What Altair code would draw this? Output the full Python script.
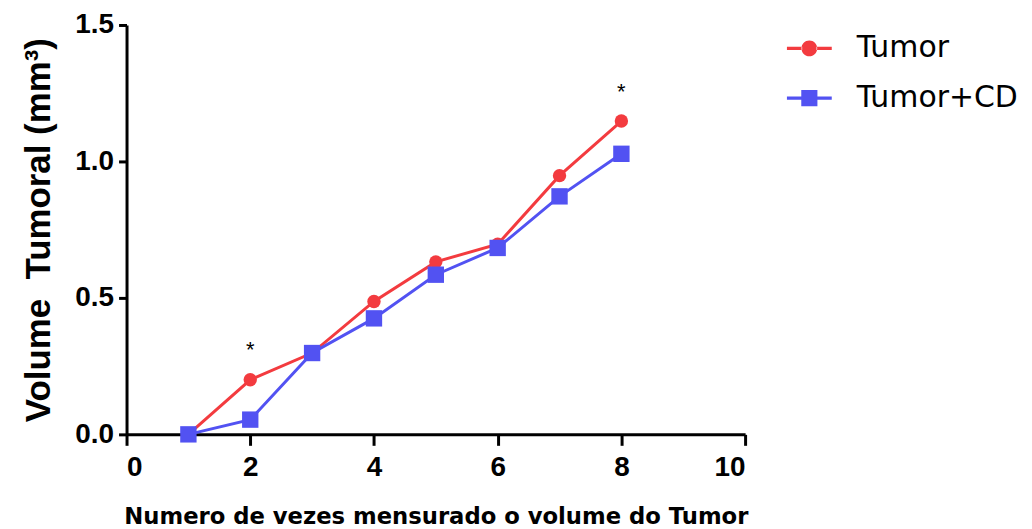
import altair as alt
import pandas as pd

x_vals = [1, 2, 3, 4, 5, 6, 7, 8]
tumor = [0.0, 0.20, 0.298, 0.487, 0.632, 0.697, 0.948, 1.148]
tumor_cd = [0.0, 0.054, 0.298, 0.425, 0.585, 0.683, 0.872, 1.028]
series_names = ["Tumor", "Tumor+CD"]
colors = ["#F33B3F", "#5252F2"]
sig_x = [2, 8]
sig_y = [0.31, 1.255]

rows = []
for xv, a, b in zip(x_vals, tumor, tumor_cd):
    rows.append({"x": xv, "y": a, "s": series_names[0]})
    rows.append({"x": xv, "y": b, "s": series_names[1]})
df = pd.DataFrame(rows)
sig = pd.DataFrame({"x": sig_x, "y": sig_y, "t": ["*"] * len(sig_x)})

# legend symbols: line + marker
leg_circle = ("M-1,-0.07H-0.32V0.07H-1Z M0.32,-0.07H1V0.07H0.32Z "
              "M-0.35,0A0.35,0.35,0,1,0,0.35,0A0.35,0.35,0,1,0,-0.35,0Z")
leg_square = ("M-1,-0.07H-0.36V0.07H-1Z M0.36,-0.07H1V0.07H0.36Z "
              "M-0.36,-0.36H0.36V0.36H-0.36Z")

xs = alt.X("x:Q", scale=alt.Scale(domain=[0, 10], nice=False),
           axis=alt.Axis(values=[0, 2, 4, 6, 8, 10], title="Numero de vezes mensurado o volume do Tumor",
                         titlePadding=24, titleFont="DejaVu Sans", titleFontSize=22.8))
ys = alt.Y("y:Q", scale=alt.Scale(domain=[0, 1.5], nice=False),
           axis=alt.Axis(values=[0, 0.5, 1.0, 1.5], format=".1f",
                         title="Volume\u00a0\u00a0Tumoral (mm³)",
                         titlePadding=18, titleFontSize=35, tickSize=8))
cscale = alt.Scale(domain=series_names, range=colors)

# drawn first, tiny, hidden under the real markers: it only feeds the legend
legend_layer = alt.Chart(df).mark_point(filled=True, size=1, opacity=1).encode(
    x=xs, y=ys,
    color=alt.Color("s:N", scale=cscale, sort=series_names,
                    legend=alt.Legend(title=None, orient="none", legendX=663, legendY=1,
                                      symbolSize=2025, labelFontSize=30,
                                      labelFont="DejaVu Sans", labelColor="black", labelLimit=400,
                                      labelOffset=25, rowPadding=12, symbolStrokeWidth=0)),
    shape=alt.Shape("s:N", sort=series_names,
                    scale=alt.Scale(domain=series_names, range=[leg_circle, leg_square])),
)

lines = alt.Chart(df).mark_line(strokeWidth=3).encode(
    x=xs, y=ys,
    color=alt.Color("s:N", scale=cscale, legend=None),
    detail="s:N",
)

circ = alt.Chart(df[df.s == series_names[0]]).mark_point(filled=True, shape="circle", size=180, opacity=1).encode(
    x=xs, y=ys, color=alt.Color("s:N", scale=cscale, legend=None))
sq = alt.Chart(df[df.s == series_names[1]]).mark_point(filled=True, shape="square", size=270, opacity=1).encode(
    x=xs, y=ys, color=alt.Color("s:N", scale=cscale, legend=None))

stars = alt.Chart(sig).mark_text(fontSize=22, font="Liberation Sans", color="black", baseline="middle").encode(
    x=xs, y=ys, text="t:N")

chart = alt.layer(legend_layer, lines, circ, sq, stars).properties(
    width=621, height=411,
    autosize=alt.AutoSizeParams(type="none"),
    padding={"left": 119, "top": 16, "right": 280, "bottom": 100},
).configure_view(stroke=None).configure_axis(
    grid=False,
    domainColor="black", domainWidth=3, tickColor="black", tickWidth=3, tickSize=11,
    labelFont="Liberation Sans", labelFontWeight="bold", labelFontSize=28, labelColor="black",
    titleFont="Liberation Sans", titleFontWeight="bold", titleColor="black",
    labelPadding=5,
).configure_axisX(labelPadding=8)

chart.save("out.html", embed_options={"renderer": "svg", "actions": False})
